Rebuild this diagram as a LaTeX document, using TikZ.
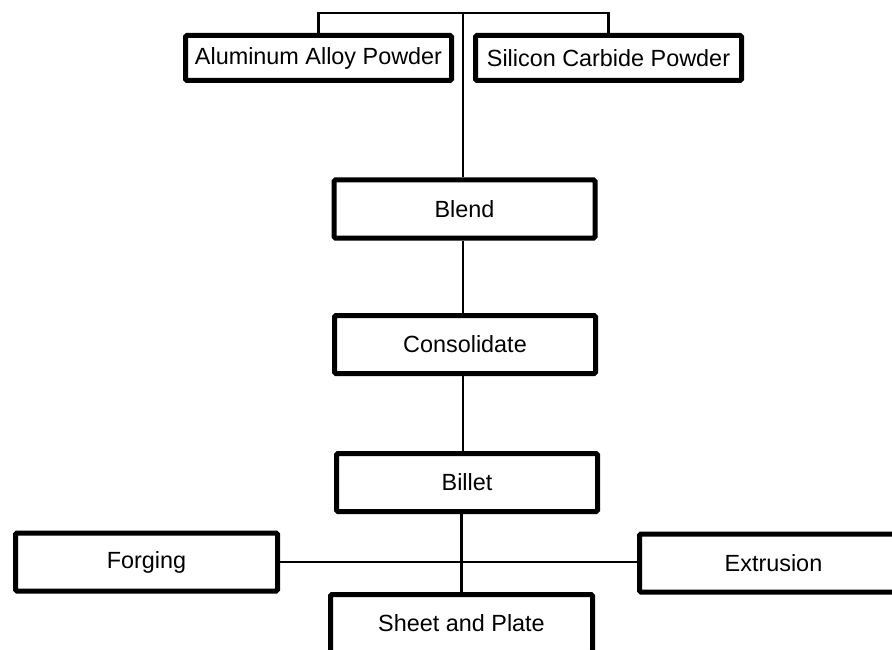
\documentclass[tikz,border=0pt]{standalone}
\usepackage{fontspec}
\setmainfont{Liberation Sans}
\usepackage{tikz}
\usetikzlibrary{positioning}

\begin{document}
\begin{tikzpicture}[x=1pt,y=-1pt,
    procbox/.style={draw,line width=5pt,rounded corners=1.5pt,inner sep=0pt,
        minimum width=261pt,minimum height=58pt,font=\fontsize{23.4}{28}\selectfont},
    powderbox/.style={procbox,minimum width=266pt,minimum height=45pt},
    link/.style={line width=2.5pt}]
    \useasboundingbox (0,0) rectangle (892,650);
    \clip (0,0) rectangle (892,650);

    % raw powders
    \node[powderbox] (alloy) at (318.5,58) {Aluminum Alloy Powder};
    \node[powderbox] (carbide) at (608.5,58) {Silicon Carbide Powder};
    \coordinate (top) at (463,13);

    % main process
    \node[procbox] (blend) at (464.5,209) {Blend};
    \node[procbox] (consolidate) at (465,344.5) {Consolidate};
    \node[procbox] (billet) at (467,482.5) {Billet};

    % products
    \node[procbox,minimum width=262pt] (forging) at (146.5,562) {Forging};
    \node[procbox,minimum width=268pt] (extrusion) at (773.5,563) {Extrusion};
    \node[procbox,minimum width=262pt] (sheet) at (461.5,623.5) {Sheet and Plate};

    \draw[link] (alloy.north) |- (top) -| (carbide.north);
    \draw[link] (top) -- (top |- blend.north);
    \draw[link] (blend.south -| top) -- (consolidate.north -| top);
    \draw[link] (consolidate.south -| top) -- (billet.north -| top);
    \draw[link] (billet.south -| sheet.north) -- (sheet.north);
    \draw[link] (forging.east) -- (extrusion.west |- forging.east);
\end{tikzpicture}
\end{document}
